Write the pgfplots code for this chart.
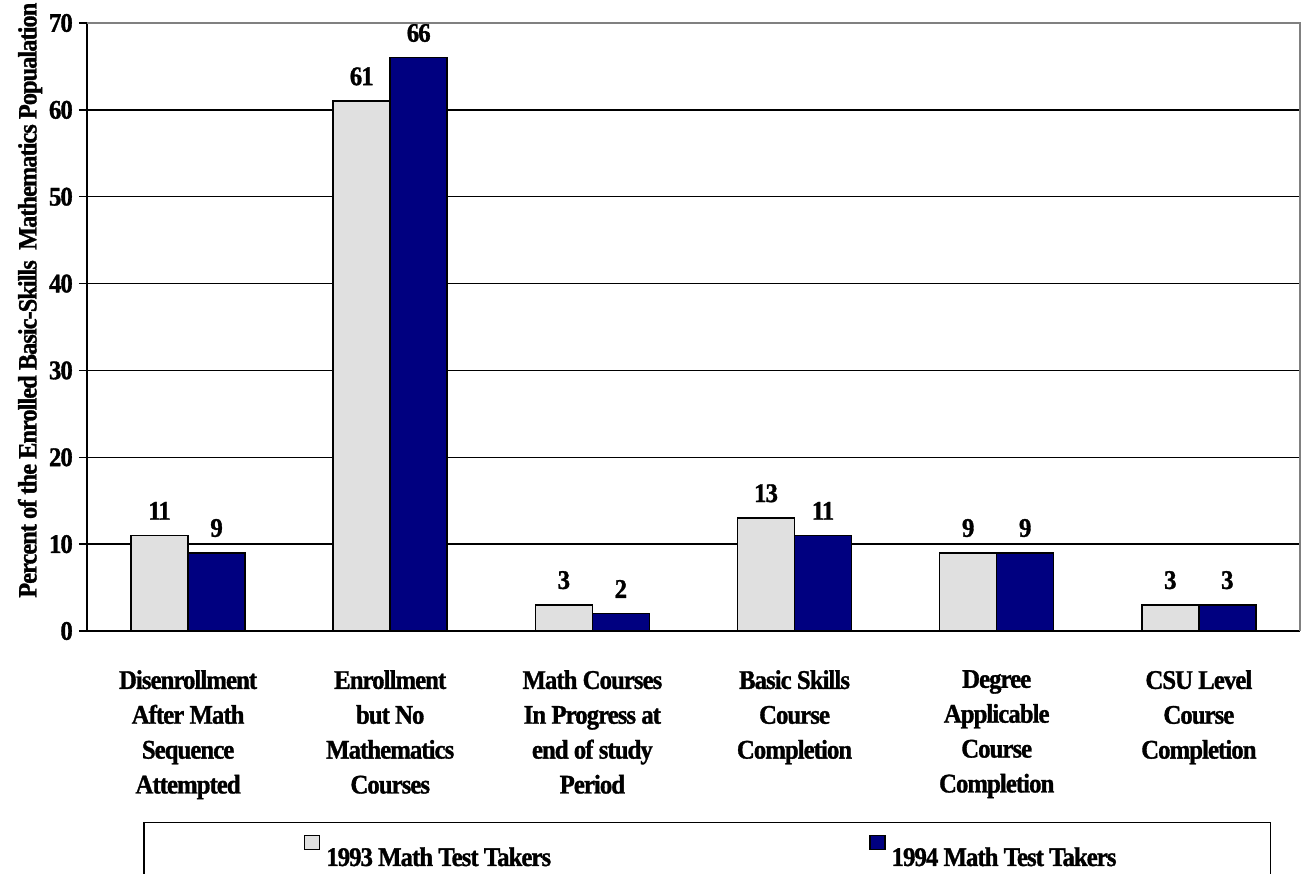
\documentclass[border=0pt]{standalone}
\usepackage{fontspec}
\setmainfont{Liberation Serif}[FakeStretch=0.92, LetterSpace=-3.5, BoldFeatures={FakeBold=1.2}]
\usepackage{pgfplots}
\pgfplotsset{compat=1.18}
\definecolor{lgray}{HTML}{E0E0E0}
\definecolor{navyb}{HTML}{000080}
\newcommand{\cf}{\fontsize{27}{35}\selectfont\bfseries}
\begin{document}
\begin{tikzpicture}
\useasboundingbox (0bp,0bp) rectangle (1306bp,874bp);
\begin{axis}[
  at={(87bp,243bp)}, anchor=south west,
  scale only axis, width=1213bp, height=608bp,
  xmin=-0.5, xmax=5.5, ymin=0, ymax=70,
  ybar=0pt, bar width=57bp,
  axis x line*=bottom, axis y line*=left,
  axis line style={black, line width=2bp},
  /pgf/number format/assume math mode=true,
  ytick={0,10,...,70},
  ymajorgrids, grid style={black, line width=1.5bp},
  yticklabel style={font=\cf, inner sep=0pt, xshift=-6bp},
  ytick style={black, line width=1.5bp},
  major tick length=8bp, tick align=outside,
  xtick={0,...,5},
  xtick style={draw=none},
  xticklabels={{Disenrollment\\After Math\\Sequence\\Attempted},
               {Enrollment\\but No\\Mathematics\\Courses},
               {Math Courses\\In Progress at\\end of study\\Period},
               {Basic Skills\\Course\\Completion},
               {Degree\\Applicable\\Course\\Completion},
               {CSU Level\\Course\\Completion}},
  xticklabel style={font=\cf, align=center, anchor=north, inner sep=0pt, yshift=-31bp},
  extra x ticks={-0.5,0.5,1.5,2.5,3.5,4.5,5.5},
  extra x tick labels={},
  extra x tick style={major tick length=14bp, tick align=center, tick style={black, line width=1.5bp, draw=black}},
  every axis y label/.style={at={(axis description cs:-0.047,0.544)}, rotate=90, anchor=center, font=\fontsize{26.5}{30}\selectfont\bfseries},
  ylabel={Percent of the Enrolled Basic-Skills\ \ Mathematics Popualation},
  nodes near coords,
  every node near coord/.append style={font=\cf, anchor=south, inner sep=0pt, yshift=15bp},
  legend columns=2,
  legend cell align=left,
  legend image code/.code={\path (0bp,8bp); \draw[#1] (6bp,8bp) rectangle (21bp,22bp);},
  legend style={at={(axis description cs:0.0462,-0.314)}, anchor=north west, draw=black, line width=1.5bp,
    inner xsep=154bp, inner ysep=12bp, font=\cf,
    nodes={inner sep=0pt},
    /tikz/every odd column/.append style={column sep=6bp},
    /tikz/every even column/.append style={column sep=312bp}},
  after end axis/.code={\draw[gray, line width=1.5bp] (rel axis cs:0,1) -- (rel axis cs:1,1) -- (rel axis cs:1,0);},
]
\addplot[fill=lgray, draw=black, line width=1.5bp] coordinates {(0,11) (1,61) (2,3) (3,13) (4,9) (5,3)};
\addplot[fill=navyb, draw=black, line width=1.5bp] coordinates {(0,9) (1,66) (2,2) (3,11) (4,9) (5,3)};
\legend{1993 Math Test Takers, 1994 Math Test Takers}
\end{axis}
\end{tikzpicture}
\end{document}
